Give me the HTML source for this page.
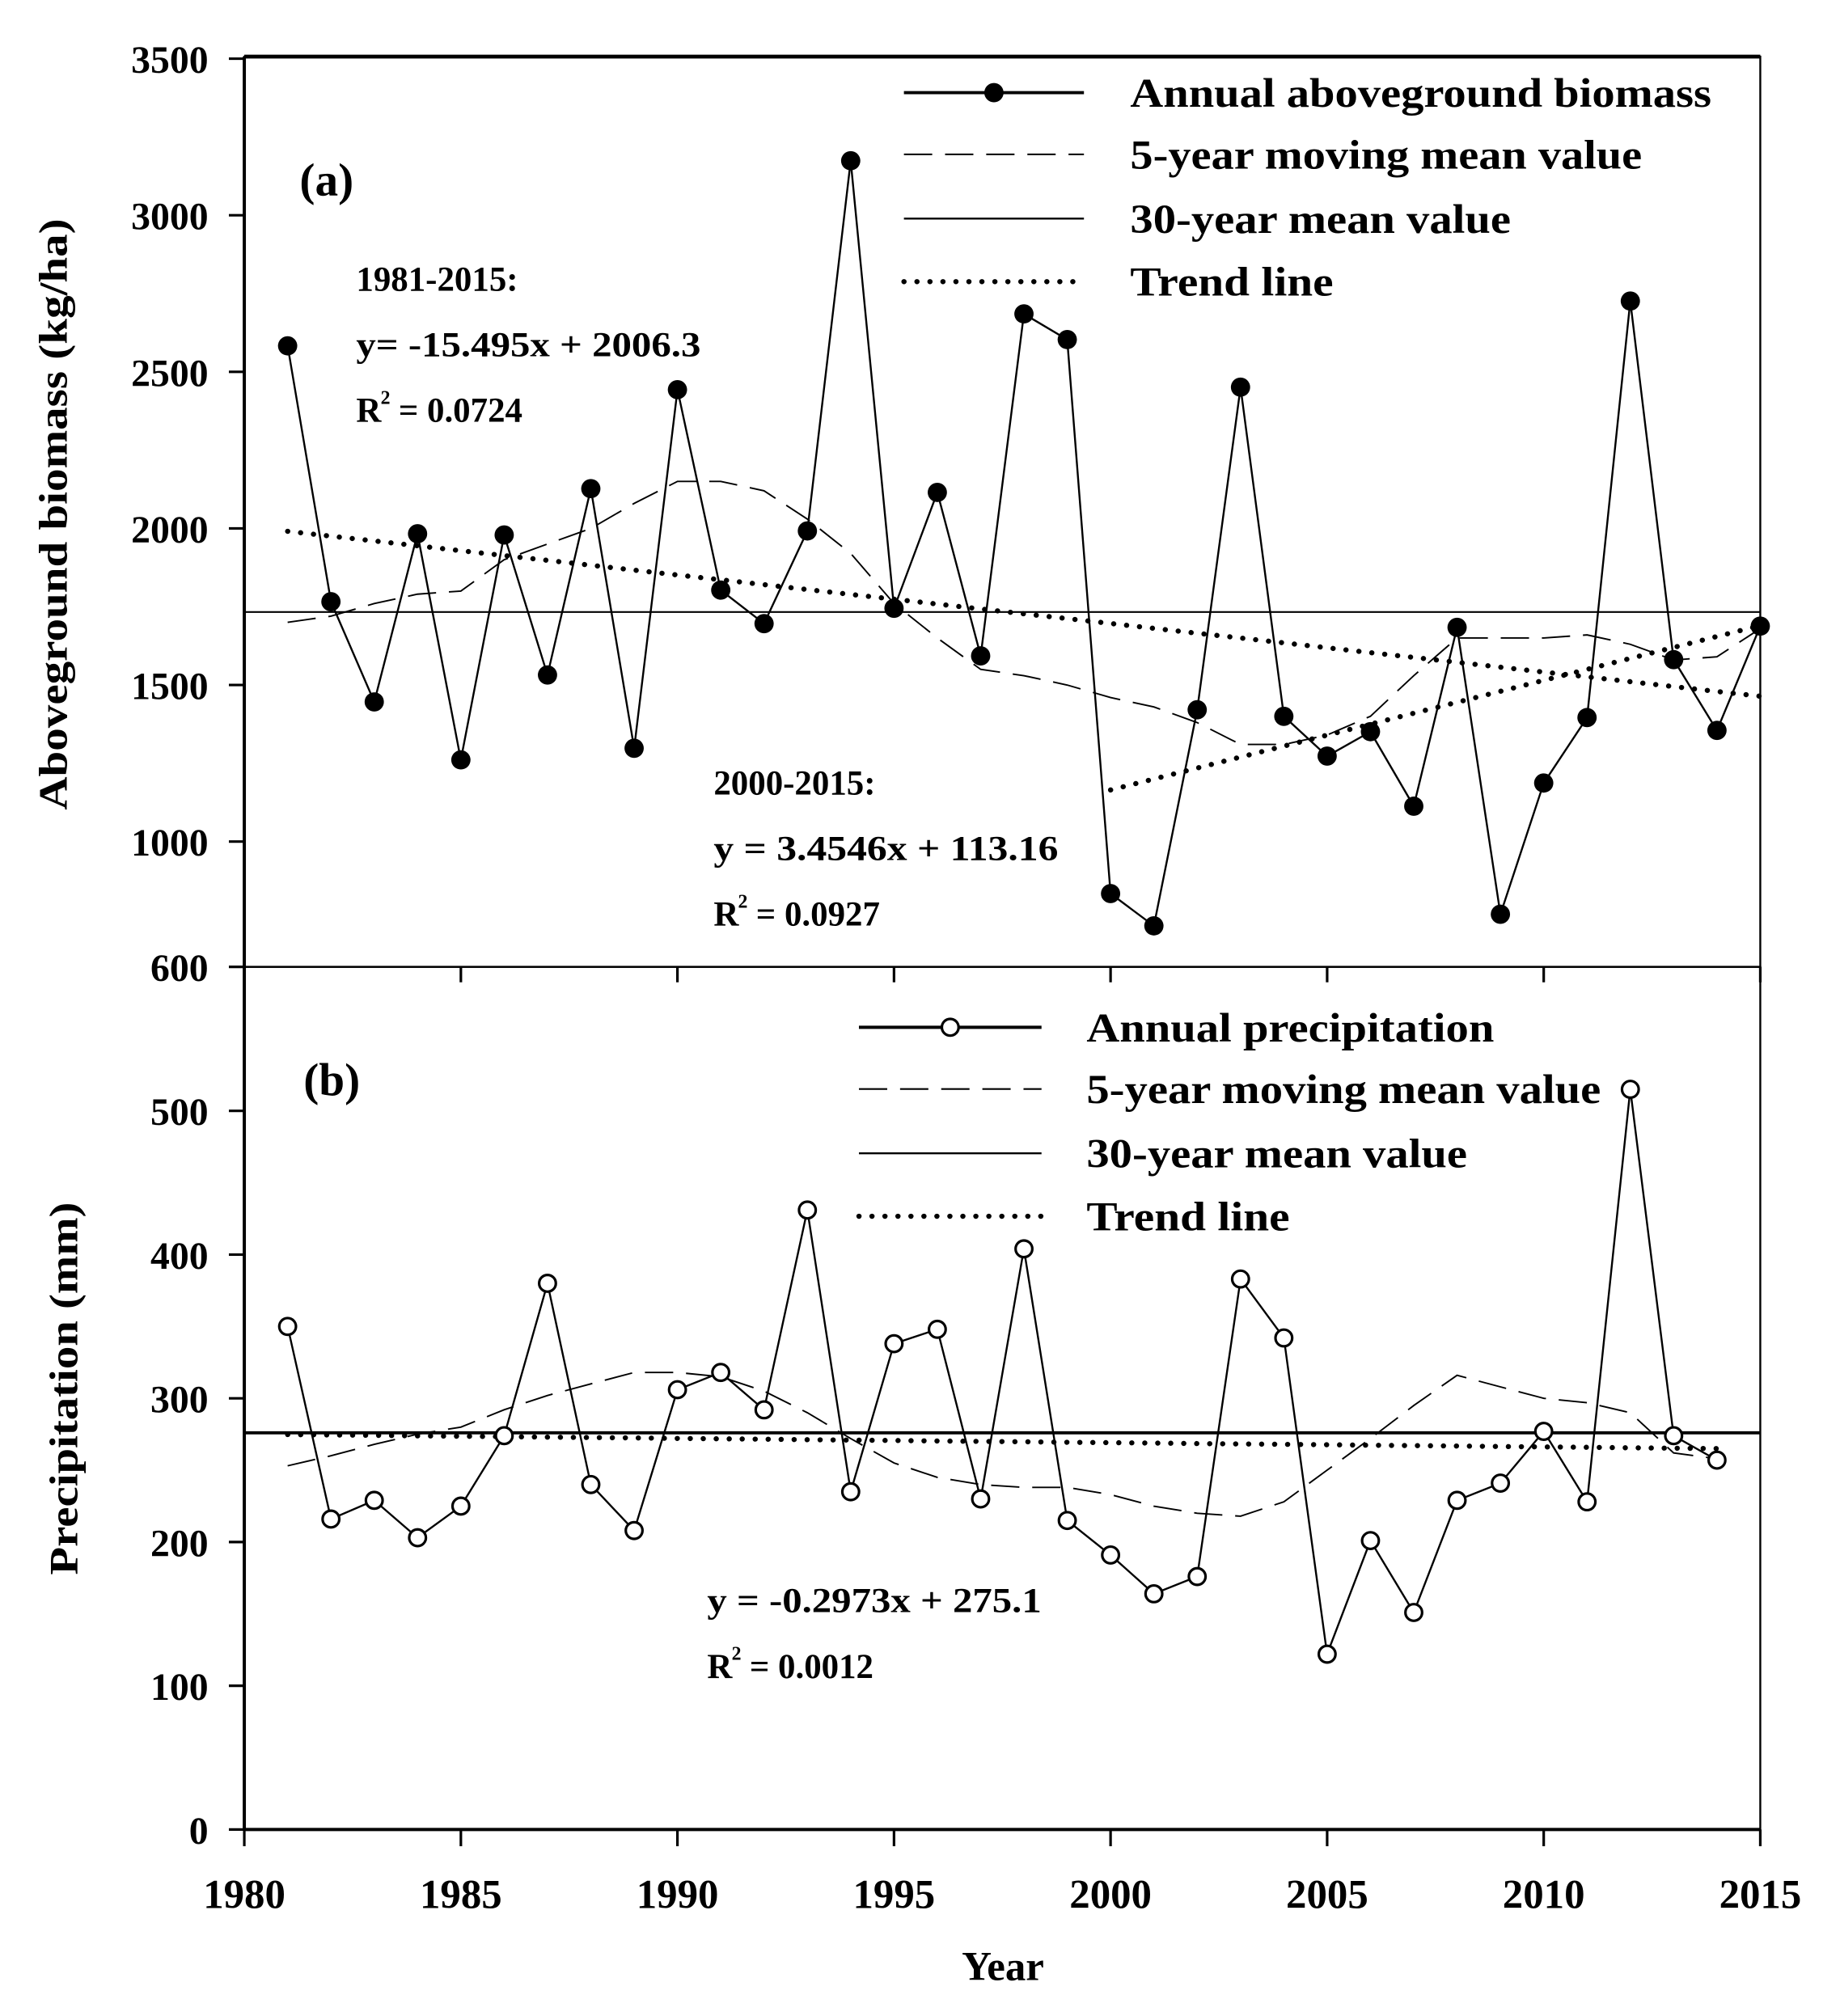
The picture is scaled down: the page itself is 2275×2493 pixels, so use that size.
<!DOCTYPE html>
<html><head><meta charset="utf-8"><style>
html,body{margin:0;padding:0;background:#fff}
svg{display:block}
text{font-family:"Liberation Serif",serif;font-weight:bold;fill:#000}
</style></head><body>
<svg id="chart" width="2275" height="2493" viewBox="0 0 1431 1568" xmlns="http://www.w3.org/2000/svg">
<rect x="0" y="0" width="1431" height="1568" fill="#fff"/>
<g id="g"></g>
</svg>
<script>
const years = [1981,1982,1983,1984,1985,1986,1987,1988,1989,1990,1991,1992,1993,1994,1995,1996,1997,1998,1999,2000,2001,2002,2003,2004,2005,2006,2007,2008,2009,2010,2011,2012,2013,2014,2015];
const biomass = [2583,1766,1446,1983,1261,1979,1532,2127,1298,2443,1803,1696,1992,3174,1745,2115,1593,2685,2603,834,731,1421,2451,1400,1273,1351,1113,1684,768,1187,1396,2726,1581,1355,1688];
const biomassMA = [1700,1720,1760,1790,1800,1900,1950,2000,2080,2150,2150,2120,2030,1920,1760,1650,1550,1530,1500,1460,1430,1380,1310,1310,1340,1400,1530,1650,1650,1650,1660,1630,1580,1590,1680];
const biomassMean = [1733];
const biomassTrendCoef = [-15.495, 2006.3];
const biomassTrend2Years = [2000, 2015];
const biomassTrend2Vals = [1165, 1690];
const precipYears = [1981,1982,1983,1984,1985,1986,1987,1988,1989,1990,1991,1992,1993,1994,1995,1996,1997,1998,1999,2000,2001,2002,2003,2004,2005,2006,2007,2008,2009,2010,2011,2012,2013,2014];
const precip = [350,216,229,203,225,274,380,240,208,306,318,292,431,235,338,348,230,404,215,191,164,176,383,342,122,201,151,229,241,277,228,515,274,257];
const precipMA = [253,260,268,275,280,292,302,310,318,318,315,305,290,272,255,245,240,238,238,233,225,220,218,228,250,272,295,316,308,300,297,290,262,258];
const precipMean = [276];
const precipTrendCoef = [-0.2973, 275.1];
const xTicks = [1980,1985,1990,1995,2000,2005,2010,2015];
const yTicksA = [600,1000,1500,2000,2500,3000,3500];
const yTicksB = [0,100,200,300,400,500];

const NS="http://www.w3.org/2000/svg";
const g=document.getElementById('g');
function mk(tag,attrs,parent){const e=document.createElementNS(NS,tag);for(const k in attrs)e.setAttribute(k,attrs[k]);(parent||g).appendChild(e);return e;}
const L=190,R=1369;
const sx=y=>L+(y-1980)*(R-L)/35;
const syA=v=>752-(v-600)*121.8/500;
const syB=v=>1423-v*1.118;
function path(xs,vs,fx,fy){return xs.map((x,i)=>(i?'L':'M')+fx(x).toFixed(1)+','+fy(vs[i]).toFixed(1)).join(' ');}
function txt(s,x,y,size,anchor,name,extra){const t=mk('text',Object.assign({x:x,y:y,'font-size':size,'text-anchor':anchor||'start'},extra||{}));t.textContent=s;return t;}

// frames
let e=mk('rect',{x:L,y:44,width:R-L,height:708,fill:'none',stroke:'#000','stroke-width':1.5});

e=mk('line',{x1:L,y1:44,x2:R,y2:44,stroke:'#000','stroke-width':3});

e=mk('line',{x1:L,y1:44,x2:L,y2:752,stroke:'#000','stroke-width':2.5});

e=mk('rect',{x:L,y:752,width:R-L,height:671,fill:'none',stroke:'#000','stroke-width':1.5});

e=mk('line',{x1:L,y1:752,x2:L,y2:1423,stroke:'#000','stroke-width':2.5});

e=mk('line',{x1:L,y1:1423,x2:R,y2:1423,stroke:'#000','stroke-width':2.5});


// ticks
xTicks.forEach(t=>{
  let a=mk('line',{x1:sx(t),y1:752,x2:sx(t),y2:764,stroke:'#000','stroke-width':2});
  
  a=mk('line',{x1:sx(t),y1:1423,x2:sx(t),y2:1436,stroke:'#000','stroke-width':2});
  
  txt(String(t),sx(t),1484,32,'middle','x-tick-label');
});
yTicksA.forEach(t=>{
  let a=mk('line',{x1:L-12,y1:syA(t),x2:L,y2:syA(t),stroke:'#000','stroke-width':2});
  
  txt(String(t),L-28,syA(t)+11,30,'end','panel-a-y-tick-label');
});
yTicksB.forEach(t=>{
  let a=mk('line',{x1:L-12,y1:syB(t),x2:L,y2:syB(t),stroke:'#000','stroke-width':2});
  
  txt(String(t),L-28,syB(t)+11,30,'end','panel-b-y-tick-label');
});

// axis titles
txt('Year',780,1540,32,'middle','x-axis-title');
txt('Aboveground biomass (kg/ha)',52,400,31,'middle','panel-a-y-axis-title',{transform:'rotate(-90 52 400)',textLength:460,lengthAdjust:'spacingAndGlyphs'});
txt('Precipitation (mm)',60,1080,31,'middle','panel-b-y-axis-title',{transform:'rotate(-90 60 1080)',textLength:290,lengthAdjust:'spacingAndGlyphs'});

// panel a series
e=mk('line',{x1:L,y1:syA(biomassMean[0]),x2:R,y2:syA(biomassMean[0]),stroke:'#000','stroke-width':1.3});

e=mk('path',{d:path(years,biomassMA,sx,syA),fill:'none',stroke:'#000','stroke-width':1.2,'stroke-dasharray':'22,10'});

const trA=years.map((y,i)=>biomassTrendCoef[0]*(i+1)+biomassTrendCoef[1]);
e=mk('path',{d:path(years,trA,sx,syA),fill:'none',stroke:'#000','stroke-width':4,'stroke-dasharray':'0.1,10','stroke-linecap':'round'});

e=mk('path',{d:path(biomassTrend2Years,biomassTrend2Vals,sx,syA),fill:'none',stroke:'#000','stroke-width':4,'stroke-dasharray':'0.1,10','stroke-linecap':'round'});

e=mk('path',{d:path(years,biomass,sx,syA),fill:'none',stroke:'#000','stroke-width':1.5});

years.forEach((y,i)=>{const c=mk('circle',{cx:sx(y),cy:syA(biomass[i]),r:7.5,fill:'#000'});
});

// panel b series
e=mk('line',{x1:L,y1:syB(precipMean[0]),x2:R,y2:syB(precipMean[0]),stroke:'#000','stroke-width':2.5});

e=mk('path',{d:path(precipYears,precipMA,sx,syB),fill:'none',stroke:'#000','stroke-width':1.2,'stroke-dasharray':'22,10'});

const trB=precipYears.map((y,i)=>precipTrendCoef[0]*(i+1)+precipTrendCoef[1]);
e=mk('path',{d:path(precipYears,trB,sx,syB),fill:'none',stroke:'#000','stroke-width':4,'stroke-dasharray':'0.1,10','stroke-linecap':'round'});

e=mk('path',{d:path(precipYears,precip,sx,syB),fill:'none',stroke:'#000','stroke-width':1.5});

precipYears.forEach((y,i)=>{const c=mk('circle',{cx:sx(y),cy:syB(precip[i]),r:6.5,fill:'#fff',stroke:'#000','stroke-width':2});
});

// labels & annotations
txt('(a)',233,152,36,'start','panel-a-label');
txt('(b)',236,852,36,'start','panel-b-label');
txt('1981-2015:',277,226,27,'start','trend-a-period');
txt('y= -15.495x + 2006.3',277,277,27,'start','trend-a-equation',{textLength:268,lengthAdjust:'spacingAndGlyphs'});
e=txt('R',277,328,27,'start','trend-a-r2');
txt('2',296,314,15,'start','trend-a-r2-sup');
txt('= 0.0724',310,328,27,'start','trend-a-r2-value');
txt('2000-2015:',555,618,27,'start','trend-b-period');
txt('y = 3.4546x + 113.16',555,669,27,'start','trend-b-equation',{textLength:268,lengthAdjust:'spacingAndGlyphs'});
txt('R',555,720,27,'start','trend-b-r2');
txt('2',574,706,15,'start','trend-b-r2-sup');
txt('= 0.0927',588,720,27,'start','trend-b-r2-value');
txt('y = -0.2973x + 275.1',550,1254,27,'start','precip-trend-equation',{textLength:260,lengthAdjust:'spacingAndGlyphs'});
txt('R',550,1305,27,'start','precip-trend-r2');
txt('2',569,1291,15,'start','precip-trend-r2-sup');
txt('= 0.0012',583,1305,27,'start','precip-trend-r2-value');

// legends
function legend(x0,x1,tx,ys,labels,marker,prefix,meanW){
  const styles=[{w:2.5},{w:1.3,d:'22,10'},{w:meanW},{w:4,d:'0.1,10',cap:'round'}];
  ys.forEach((y,i)=>{
    const a={x1:x0,y1:y,x2:x1,y2:y,stroke:'#000','stroke-width':styles[i].w};
    if(styles[i].d)a['stroke-dasharray']=styles[i].d;
    if(styles[i].cap)a['stroke-linecap']=styles[i].cap;
    const l=mk('line',a);
    
    
    if(i===0){const c=mk('circle',marker==='filled'?{cx:(x0+x1)/2,cy:y,r:7.5,fill:'#000'}:{cx:(x0+x1)/2,cy:y,r:6.5,fill:'#fff',stroke:'#000','stroke-width':2});
      
      }
    txt(labels[i][0],tx,y+11,32,'start',prefix+'-legend-entry',{textLength:labels[i][1],lengthAdjust:'spacingAndGlyphs'});
  });
}
legend(703,843,879,[72,120,170,219],[['Annual aboveground biomass',452],['5-year moving mean value',398],['30-year mean value',296],['Trend line',158]],'filled','biomass',1.5);
legend(668,810,845,[799,847,897,946],[['Annual precipitation',317],['5-year moving mean value',400],['30-year mean value',296],['Trend line',158]],'open','precip',1.5);
</script>
</body></html>
